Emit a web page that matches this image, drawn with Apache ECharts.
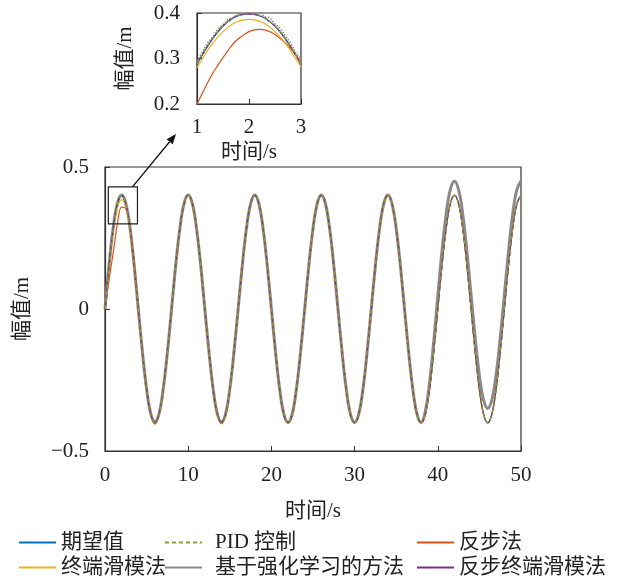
<!DOCTYPE html>
<html><head><meta charset="utf-8">
<script src="https://cdn.jsdelivr.net/npm/echarts@6/dist/echarts.min.js"></script>
<style>html,body{margin:0;padding:0;background:#fff}#c{width:618px;height:580px}</style>
</head><body><div id="c"></div>
<script>
// ---- data ----
const seriesNames = ['期望值','PID 控制','反步法','终端滑模法','基于强化学习的方法','反步终端滑模法'];
const mainXTicks = [0,10,20,30,40,50];
const mainYTicks = [-0.5,0,0.5];
const insetXTicks = [1,2,3];
const insetYTicks = [0.2,0.3,0.4];

// main plot: time 0..50 s, every 0.5 s
const timeMain = [0,0.5,1,1.5,2,2.5,3,3.5,4,4.5,5,5.5,6,6.5,7,7.5,8,8.5,9,9.5,10,10.5,11,11.5,12,12.5,13,13.5,14,14.5,15,15.5,16,16.5,17,17.5,18,18.5,19,19.5,20,20.5,21,21.5,22,22.5,23,23.5,24,24.5,25,25.5,26,26.5,27,27.5,28,28.5,29,29.5,30,30.5,31,31.5,32,32.5,33,33.5,34,34.5,35,35.5,36,36.5,37,37.5,38,38.5,39,39.5,40,40.5,41,41.5,42,42.5,43,43.5,44,44.5,45,45.5,46,46.5,47,47.5,48,48.5,49,49.5,50];

const expectedMain = [
 0,0.153,0.283,0.370,0.400,0.370,0.283,0.153,0,-0.153,-0.283,-0.370,-0.400,-0.370,-0.283,-0.153,
 0,0.153,0.283,0.370,0.400,0.370,0.283,0.153,0,-0.153,-0.283,-0.370,-0.400,-0.370,-0.283,-0.153,
 0,0.153,0.283,0.370,0.400,0.370,0.283,0.153,0,-0.153,-0.283,-0.370,-0.400,-0.370,-0.283,-0.153,
 0,0.153,0.283,0.370,0.400,0.370,0.283,0.153,0,-0.153,-0.283,-0.370,-0.400,-0.370,-0.283,-0.153,
 0,0.153,0.283,0.370,0.400,0.370,0.283,0.153,0,-0.153,-0.283,-0.370,-0.400,-0.370,-0.283,-0.153,
 0,0.153,0.283,0.370,0.400,0.370,0.283,0.153,0,-0.153,-0.283,-0.370,-0.400,-0.370,-0.283,-0.153,
 0,0.153,0.283,0.370,0.400];
const pidMain = [
 0,0.152,0.283,0.371,0.401,0.371,0.284,0.153,0,-0.154,-0.285,-0.373,-0.405,-0.373,-0.285,-0.154,
 0,0.153,0.284,0.371,0.402,0.371,0.284,0.153,0,-0.154,-0.285,-0.373,-0.404,-0.372,-0.284,-0.153,
 0,0.153,0.283,0.370,0.401,0.370,0.283,0.153,0,-0.153,-0.284,-0.371,-0.402,-0.371,-0.284,-0.153,
 0,0.153,0.283,0.370,0.401,0.370,0.283,0.153,0,-0.153,-0.284,-0.371,-0.401,-0.371,-0.284,-0.153,
 0,0.153,0.283,0.370,0.401,0.370,0.283,0.153,0,-0.153,-0.284,-0.371,-0.401,-0.371,-0.284,-0.153,
 0,0.153,0.283,0.370,0.401,0.370,0.283,0.153,0,-0.153,-0.284,-0.371,-0.401,-0.371,-0.284,-0.153,
 0,0.153,0.283,0.370,0.401];
const backstepMain = [
 0,0.105,0.200,0.302,0.359,0.353,0.292,0.170,0.010,-0.150,-0.283,-0.371,-0.402,-0.371,-0.284,-0.153,
 0,0.153,0.283,0.370,0.400,0.370,0.283,0.153,0,-0.153,-0.283,-0.370,-0.401,-0.370,-0.283,-0.153,
 0,0.153,0.283,0.370,0.400,0.370,0.283,0.153,0,-0.153,-0.283,-0.370,-0.400,-0.370,-0.283,-0.153,
 0,0.153,0.283,0.370,0.400,0.370,0.283,0.153,0,-0.153,-0.283,-0.370,-0.400,-0.370,-0.283,-0.153,
 0,0.153,0.283,0.370,0.400,0.370,0.283,0.153,0,-0.153,-0.283,-0.370,-0.400,-0.370,-0.283,-0.153,
 0,0.153,0.283,0.370,0.400,0.370,0.283,0.153,0,-0.153,-0.283,-0.370,-0.400,-0.370,-0.283,-0.153,
 0,0.153,0.283,0.370,0.400];
const terminalSmcMain = [
 0,0.140,0.275,0.357,0.385,0.358,0.278,0.150,0,-0.155,-0.286,-0.374,-0.406,-0.374,-0.286,-0.155,
 0,0.152,0.282,0.369,0.398,0.369,0.282,0.152,0,-0.155,-0.285,-0.373,-0.405,-0.373,-0.285,-0.154,
 0,0.153,0.283,0.370,0.400,0.370,0.283,0.153,0,-0.153,-0.283,-0.370,-0.401,-0.370,-0.283,-0.153,
 0,0.153,0.283,0.370,0.400,0.370,0.283,0.153,0,-0.153,-0.283,-0.370,-0.400,-0.370,-0.283,-0.153,
 0,0.153,0.283,0.370,0.400,0.370,0.283,0.153,0,-0.153,-0.283,-0.370,-0.400,-0.370,-0.283,-0.153,
 0,0.153,0.283,0.370,0.400,0.370,0.283,0.153,0,-0.153,-0.283,-0.370,-0.400,-0.370,-0.283,-0.153,
 0,0.153,0.283,0.370,0.400];
const rlMain = [
 0,0.158,0.290,0.374,0.401,0.372,0.287,0.155,0,-0.152,-0.281,-0.368,-0.396,-0.368,-0.281,-0.152,
 0,0.154,0.284,0.371,0.401,0.371,0.284,0.154,0,-0.152,-0.282,-0.369,-0.397,-0.369,-0.282,-0.152,
 0,0.153,0.283,0.370,0.401,0.370,0.283,0.153,0,-0.153,-0.283,-0.370,-0.399,-0.370,-0.283,-0.153,
 0,0.153,0.283,0.370,0.401,0.370,0.283,0.153,0,-0.153,-0.283,-0.370,-0.399,-0.370,-0.283,-0.153,
 0,0.153,0.283,0.370,0.401,0.370,0.283,0.153,0,-0.153,-0.283,-0.370,-0.399,-0.360,-0.263,-0.118,
 0.045,0.203,0.333,0.420,0.450,0.420,0.333,0.203,0.050,-0.103,-0.233,-0.320,-0.350,-0.320,-0.233,-0.103,
 0.050,0.203,0.333,0.420,0.450];
const bsTsmcMain = [
 0,0.154,0.284,0.371,0.399,0.370,0.283,0.153,0,-0.153,-0.284,-0.371,-0.402,-0.371,-0.284,-0.153,
 0,0.153,0.283,0.370,0.401,0.370,0.283,0.153,0,-0.153,-0.283,-0.371,-0.402,-0.371,-0.283,-0.153,
 0,0.153,0.283,0.370,0.400,0.370,0.283,0.153,0,-0.153,-0.283,-0.370,-0.401,-0.370,-0.283,-0.153,
 0,0.153,0.283,0.370,0.400,0.370,0.283,0.153,0,-0.153,-0.283,-0.370,-0.401,-0.370,-0.283,-0.153,
 0,0.153,0.283,0.370,0.400,0.370,0.283,0.153,0,-0.153,-0.283,-0.370,-0.401,-0.370,-0.283,-0.153,
 0,0.153,0.283,0.370,0.401,0.370,0.283,0.153,0,-0.153,-0.283,-0.370,-0.402,-0.370,-0.283,-0.153,
 0,0.153,0.283,0.370,0.401];

// inset: time 1..3 s, every 0.1 s
const timeInset = [1,1.1,1.2,1.3,1.4,1.5,1.6,1.7,1.8,1.9,2,2.1,2.2,2.3,2.4,2.5,2.6,2.7,2.8,2.9,3];
const expectedInset   = [0.287,0.307,0.326,0.343,0.358,0.371,0.381,0.389,0.394,0.397,0.398,0.397,0.394,0.389,0.381,0.371,0.358,0.343,0.326,0.307,0.287];
const pidInset        = [0.289,0.309,0.328,0.345,0.360,0.372,0.382,0.390,0.395,0.398,0.399,0.398,0.395,0.390,0.382,0.372,0.359,0.344,0.327,0.308,0.288];
const backstepInset   = [0.200,0.223,0.246,0.267,0.285,0.302,0.318,0.333,0.344,0.352,0.359,0.363,0.364,0.363,0.359,0.353,0.344,0.334,0.322,0.308,0.292];
const terminalSmcInset= [0.280,0.299,0.317,0.333,0.347,0.359,0.369,0.377,0.382,0.385,0.386,0.385,0.382,0.377,0.369,0.359,0.347,0.333,0.317,0.299,0.282];
const rlInset         = [0.294,0.313,0.334,0.347,0.364,0.374,0.386,0.390,0.398,0.397,0.402,0.398,0.400,0.392,0.389,0.376,0.366,0.349,0.334,0.313,0.300];
const bsTsmcInset     = [0.288,0.308,0.327,0.344,0.359,0.372,0.382,0.390,0.395,0.397,0.398,0.397,0.394,0.389,0.381,0.371,0.358,0.343,0.326,0.307,0.287];

// ---- styles ----
const colors = {
  '期望值':'#0072BD','PID 控制':'#77AC30','反步法':'#D95319',
  '终端滑模法':'#EDB120','基于强化学习的方法':'#8a8a8a','反步终端滑模法':'#7E2F8E'
};
const FONT = "'Liberation Serif','Noto Sans CJK SC',serif";
const FS = 21;
const pair = (xs, ys) => xs.map((x,i)=>[x, ys[i]]);

function mk(name, xs, ys, grid, extra) {
  return Object.assign({
    name, type:'line', xAxisIndex:grid, yAxisIndex:grid,
    data: pair(xs, ys), showSymbol:false, symbol:'none', smooth:0.4,
    animation:false, silent:true,
    lineStyle:{color:colors[name], width:1.2},
    itemStyle:{color:colors[name]}
  }, extra||{});
}

const mainSeries = [
  mk('基于强化学习的方法', timeMain, rlMain, 0, {lineStyle:{color:colors['基于强化学习的方法'], width:3}}),
  mk('期望值', timeMain, expectedMain, 0),
  mk('反步法', timeMain, backstepMain, 0),
  mk('终端滑模法', timeMain, terminalSmcMain, 0),
  mk('反步终端滑模法', timeMain, bsTsmcMain, 0),
  mk('PID 控制', timeMain, pidMain, 0, {lineStyle:{color:colors['PID 控制'], width:1.2, type:[4,3]}})
];
const insetSeries = [
  mk('基于强化学习的方法', timeInset, rlInset, 1, {lineStyle:{color:'#888', width:1.5, type:'dotted'}}),
  mk('期望值', timeInset, expectedInset, 1),
  mk('反步法', timeInset, backstepInset, 1),
  mk('终端滑模法', timeInset, terminalSmcInset, 1),
  mk('反步终端滑模法', timeInset, bsTsmcInset, 1),
  mk('PID 控制', timeInset, pidInset, 1, {lineStyle:{color:colors['PID 控制'], width:1.2, type:[4,3]}})
];

const axisCommon = {
  axisLine:{show:true, onZero:false, lineStyle:{color:'#333', width:1.2}},
  axisTick:{show:true, inside:true, length:5, lineStyle:{color:'#333'}},
  splitLine:{show:false},
  nameTextStyle:{fontFamily:FONT, fontSize:FS, color:'#222'},
  nameLocation:'middle'
};
const fmtNum = v => (v<0?'\u2212':'') + String(Math.abs(Math.round(v*10)/10));
const lbl = (margin, extra) => Object.assign({fontFamily:FONT, fontSize:FS, color:'#222', margin}, extra||{});

function legend(left, names, textPad) {
  return {
    left, top:532, height:56, padding:0, orient:'vertical', itemGap:4, itemWidth:37, itemHeight:14,
    data: names, selectedMode:false,
    itemStyle:{opacity:0},
    textStyle:{fontFamily:FONT, fontSize:FS, color:'#222', lineHeight:21, padding:[0,0,0,textPad||0]}
  };
}

const chart = echarts.init(document.getElementById('c'), null, {renderer:'canvas'});
chart.setOption({
  animation:false,
  backgroundColor:'#fff',
  grid:[
    {left:105, top:167, width:416, height:284, show:true, borderColor:'#333', borderWidth:1.2, containLabel:false},
    {left:197, top:13, width:104, height:91, show:true, borderColor:'#333', borderWidth:1.2, containLabel:false}
  ],
  xAxis:[
    Object.assign({}, axisCommon, {gridIndex:0, type:'value', min:0, max:50, interval:10, name:'时间/s', nameGap:50,
      axisLabel:lbl(14, {customValues: mainXTicks})}),
    Object.assign({}, axisCommon, {gridIndex:1, type:'value', min:1, max:3, interval:1, name:'时间/s', nameGap:38,
      axisLabel:lbl(13, {customValues: insetXTicks})})
  ],
  yAxis:[
    Object.assign({}, axisCommon, {gridIndex:0, type:'value', min:-0.5, max:0.5, interval:0.5, name:'幅值/m', nameGap:72, nameRotate:90,
      axisLabel:lbl(16, {formatter:fmtNum, customValues: mainYTicks})}),
    Object.assign({}, axisCommon, {gridIndex:1, type:'value', min:0.2, max:0.4, interval:0.1, name:'幅值/m', nameGap:61, nameRotate:90,
      axisLabel:lbl(17, {formatter:v=>v.toFixed(1), customValues: insetYTicks})})
  ],
  legend:[
    legend(18, ['期望值','终端滑模法'], 0),
    legend(164, ['PID 控制','基于强化学习的方法'], 8),
    legend(416, ['反步法','反步终端滑模法'], 0)
  ],
  series: mainSeries.concat(insetSeries)
});

// annotation: zoom box and arrow
const p1 = chart.convertToPixel({gridIndex:0}, [0.4, 0.43]);
const p2 = chart.convertToPixel({gridIndex:0}, [3.9, 0.30]);
const a0 = [p2[0]-5, p1[1]];
const a1 = [176, 134];
const dx = a1[0]-a0[0], dy = a1[1]-a0[1], L = Math.hypot(dx,dy), ux = dx/L, uy = dy/L;
const hl = 10, hw = 4;
const base = [a1[0]-ux*hl, a1[1]-uy*hl];
chart.setOption({
  graphic:[
    {type:'rect', shape:{x:p1[0], y:p1[1], width:p2[0]-p1[0], height:p2[1]-p1[1]}, style:{fill:'none', stroke:'#222', lineWidth:1.2}, z:100},
    {type:'line', shape:{x1:a0[0], y1:a0[1], x2:base[0], y2:base[1]}, style:{stroke:'#111', lineWidth:1.3}, z:100},
    {type:'polygon', shape:{points:[a1, [base[0]-uy*hw, base[1]+ux*hw], [base[0]+uy*hw, base[1]-ux*hw]]}, style:{fill:'#111'}, z:100}
  ]
});
</script>
</body></html>
